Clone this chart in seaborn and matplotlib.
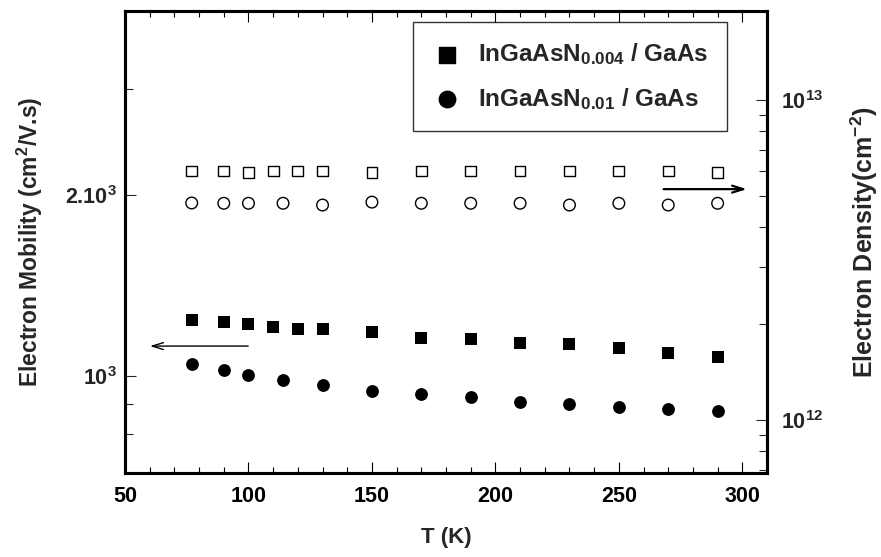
import matplotlib
matplotlib.use("Agg")
import matplotlib.pyplot as plt
import seaborn as sns
from matplotlib.ticker import FixedLocator, NullFormatter, MultipleLocator

# temperatures (K)
temp_sq = [77, 90, 100, 110, 120, 130, 150, 170, 190, 210, 230, 250, 270, 290]
temp_ci = [77, 90, 100, 114, 130, 150, 170, 190, 210, 230, 250, 270, 290]

# electron mobility (cm2/V.s), left axis
mobility_sq = [1239, 1230, 1220, 1206, 1197, 1197, 1184, 1157, 1152, 1135, 1130, 1113, 1092, 1075]
mobility_ci = [1047, 1023, 1004, 985, 966, 944, 933, 923, 905, 898, 888, 881, 874]

# electron density (cm-2), right axis
density_sq = [6.0e12, 6.0e12, 5.95e12, 6.0e12, 6.0e12, 6.0e12, 5.95e12,
              6.0e12, 6.0e12, 6.0e12, 6.0e12, 6.0e12, 6.0e12, 5.95e12]
density_ci = [4.77e12, 4.76e12, 4.76e12, 4.76e12, 4.70e12, 4.80e12, 4.76e12,
              4.76e12, 4.76e12, 4.70e12, 4.76e12, 4.70e12, 4.76e12]

labels = [r"InGaAsN$_{0.004}$ / GaAs", r"InGaAsN$_{0.01}$ / GaAs"]

sns.set_style("ticks")
plt.rcParams["font.family"] = ["Liberation Sans", "DejaVu Sans"]
plt.rcParams["font.weight"] = "bold"
plt.rcParams["mathtext.fontset"] = "custom"
plt.rcParams["mathtext.rm"] = "Liberation Sans:bold"
plt.rcParams["mathtext.it"] = "Liberation Sans:bold"
plt.rcParams["mathtext.bf"] = "Liberation Sans:bold"
plt.rcParams["mathtext.default"] = "rm"

fig = plt.figure(figsize=(8.81, 5.57), dpi=100)
ax = fig.add_axes([0.1419, 0.1508, 0.7287, 0.8295])
ax2 = ax.twinx()

# filled markers: mobility
sns.scatterplot(x=temp_sq, y=mobility_sq, marker="s", s=75, color="black",
                edgecolor="black", linewidth=0, legend=False, ax=ax)
sns.scatterplot(x=temp_ci, y=mobility_ci, marker="o", s=85, color="black",
                edgecolor="black", linewidth=0, legend=False, ax=ax)

# open markers: density
sns.scatterplot(x=temp_sq, y=density_sq, marker="s", s=60, color="black",
                facecolor="none", edgecolor="black", linewidth=1.0, legend=False, ax=ax2)
sns.scatterplot(x=temp_ci, y=density_ci, marker="o", s=70, color="black",
                facecolor="none", edgecolor="black", linewidth=1.0, legend=False, ax=ax2)

# x axis
ax.set_xlim(50, 310)
ax.xaxis.set_major_locator(MultipleLocator(50))
ax.xaxis.set_minor_locator(MultipleLocator(10))

# left axis
ax.set_yscale("log")
ax.set_ylim(690, 4050)
ax.yaxis.set_major_locator(FixedLocator([1000, 2000]))
ax.set_yticklabels([r"10$^3$", r"2.10$^3$"])
ax.yaxis.set_minor_locator(FixedLocator([800, 900, 3000]))
ax.yaxis.set_minor_formatter(NullFormatter())

# right axis
ax2.set_yscale("log")
ax2.set_ylim(6.83e11, 1.9e13)
ax2.yaxis.set_major_locator(FixedLocator([1e12, 1e13]))
ax2.set_yticklabels([r"10$^{12}$", r"10$^{13}$"])
ax2.yaxis.set_minor_locator(FixedLocator([7e11, 8e11, 9e11] + [k * 1e12 for k in range(2, 10)]))
ax2.yaxis.set_minor_formatter(NullFormatter())

for a in (ax, ax2):
    for sp in a.spines.values():
        sp.set_linewidth(2.2)
        sp.set_color("black")

ax.tick_params(axis="x", which="both", direction="in", top=True, bottom=True,
               labelsize=15.5, pad=9, width=0.8, colors="black")
ax.tick_params(axis="x", which="major", length=8)
ax.tick_params(axis="x", which="minor", length=4)
ax.tick_params(axis="y", which="both", direction="in", left=True, right=False,
               labelsize=15.5, pad=6, width=0.8)
ax.tick_params(axis="y", which="major", length=8)
ax.tick_params(axis="y", which="minor", length=6)
ax2.tick_params(axis="y", which="both", direction="in", right=True, left=False,
                labelsize=15.5, pad=10, width=0.8)
ax2.tick_params(axis="y", which="major", length=8)
ax2.tick_params(axis="y", which="minor", length=6)

ax.set_xlabel("T (K)", fontsize=16, fontweight="bold", va="center")
ax.set_ylabel(r"Electron Mobility (cm$^2$/V.s)", fontsize=16.5, fontweight="bold", va="center")
ax2.set_ylabel(r"Electron Density(cm$^{-2}$)", fontsize=18, fontweight="bold",
               va="center", rotation=90)
ax.xaxis.set_label_coords(0.5, -0.139)
ax.yaxis.set_label_coords(-0.148, 0.5)
ax2.yaxis.set_label_coords(1.152, 0.5)

# arrows pointing to the axes
ax.annotate("", xy=(59, 1122), xytext=(101, 1122),
            arrowprops=dict(arrowstyle="->,head_length=0.8,head_width=0.25", lw=1.0, color="black"))
ax2.annotate("", xy=(303, 5.27e12), xytext=(267, 5.27e12),
             arrowprops=dict(arrowstyle="->,head_length=0.8,head_width=0.25", lw=1.6, color="black"))

# legend with the filled symbols
h1 = ax.scatter([], [], marker="s", s=120, color="black")
h2 = ax.scatter([], [], marker="o", s=140, color="black")
leg = ax2.legend([h1, h2], labels, loc="upper left", bbox_to_anchor=(0.449, 0.976),
                 fontsize=17.5, frameon=True, fancybox=False, edgecolor="black",
                 borderpad=0.8, labelspacing=0.75, handlelength=1.2,
                 handletextpad=0.65, borderaxespad=0)
leg.get_frame().set_linewidth(1.0)
for t in leg.get_texts():
    t.set_fontweight("bold")

fig.savefig("out.png", dpi=100)
